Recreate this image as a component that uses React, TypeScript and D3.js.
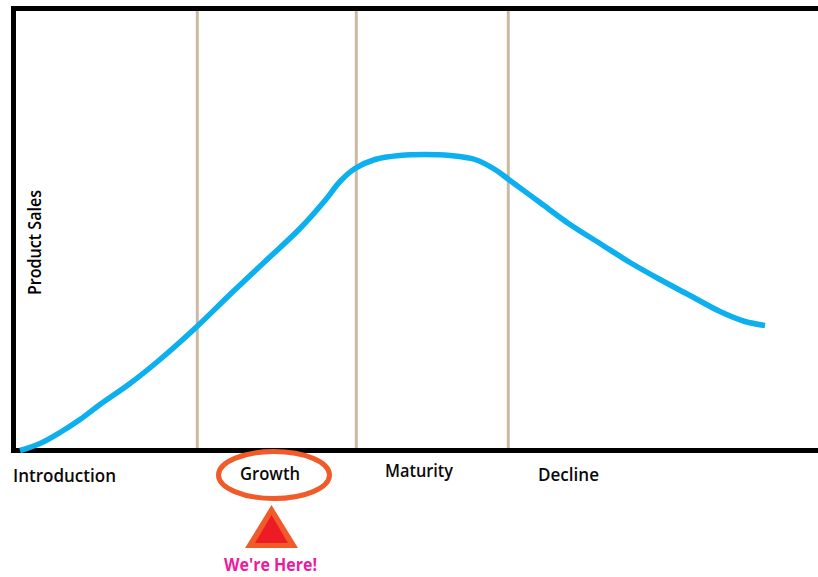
import React from "react";
import * as d3 from "d3";

const time = [2,22,42,62,82,112,142,179,212,247,282,307,322,337,357,382,407,432,457,477,492,522,552,582,612,642,672,702,727,747];
const sales = [0,7,18,31,46,67,91,124,156,189,222,250,269,282,291,295,296,295,291,281,270,248,226,207,188,171,155,139,129,125];
const stageBoundaries = [179.3, 338.3, 490.3];
const stages = ["Introduction", "Growth", "Maturity", "Decline"];
const stageTime = [-5, 222, 367, 520];
const stageBaseline = [-31.5, -29, -26.5, -30];
const stageWidths = [103, 60, 68, 61];

const W = 818, H = 577;
const x = d3.scaleLinear().domain([0, 800]).range([18, 818]);
const y = d3.scaleLinear().domain([0, 440]).range([450.5, 10.5]);
const FONT = "'Open Sans', 'Noto Sans', sans-serif";

export default function App() {
  const line = d3.line<number>().x((_, i) => x(time[i])).y((d) => y(d)).curve(d3.curveCatmullRom.alpha(0.5));
  return (
    <svg width={W} height={H} style={{ position: "absolute", left: 0, top: 0, background: "#fff" }}>
      {stageBoundaries.map((b) => (
        <line key={b} x1={x(b)} x2={x(b)} y1={y(441.5)} y2={y(-2)} stroke="#cdb9a3" strokeWidth={3} />
      ))}
      <path d={`M${W},${y(442)}H13.5V${y(0)}H${W}`} fill="none" stroke="#000" strokeWidth={5} />
      <path d={line(sales) ?? ""} fill="none" stroke="#0cb0ee" strokeWidth={5.5} />
      <text transform="translate(41,295) rotate(-90)" fontFamily={FONT} fontSize={18.5} fontWeight={600} textLength={105} lengthAdjust="spacingAndGlyphs" fill="#000">Product Sales</text>
      {stages.map((s, i) => (
        <text key={s} x={x(stageTime[i])} y={y(stageBaseline[i])} fontFamily={FONT} fontSize={18} fontWeight={600} textLength={stageWidths[i]} lengthAdjust="spacingAndGlyphs" fill="#0a0a0a">{s}</text>
      ))}
      <ellipse cx={274} cy={475} rx={55.5} ry={23.5} fill="none" stroke="#f15a29" strokeWidth={5} />
      <polygon points="271.5,505 245,548 298,548" fill="#f15a29" />
      <polygon points="271.5,515 255,543 288,543" fill="#ed1c24" />
      <text x={224} y={570.5} fontFamily={FONT} fontSize={18} fontWeight={700} textLength={93} lengthAdjust="spacingAndGlyphs" fill="#ec1c9c">We're Here!</text>
    </svg>
  );
}
